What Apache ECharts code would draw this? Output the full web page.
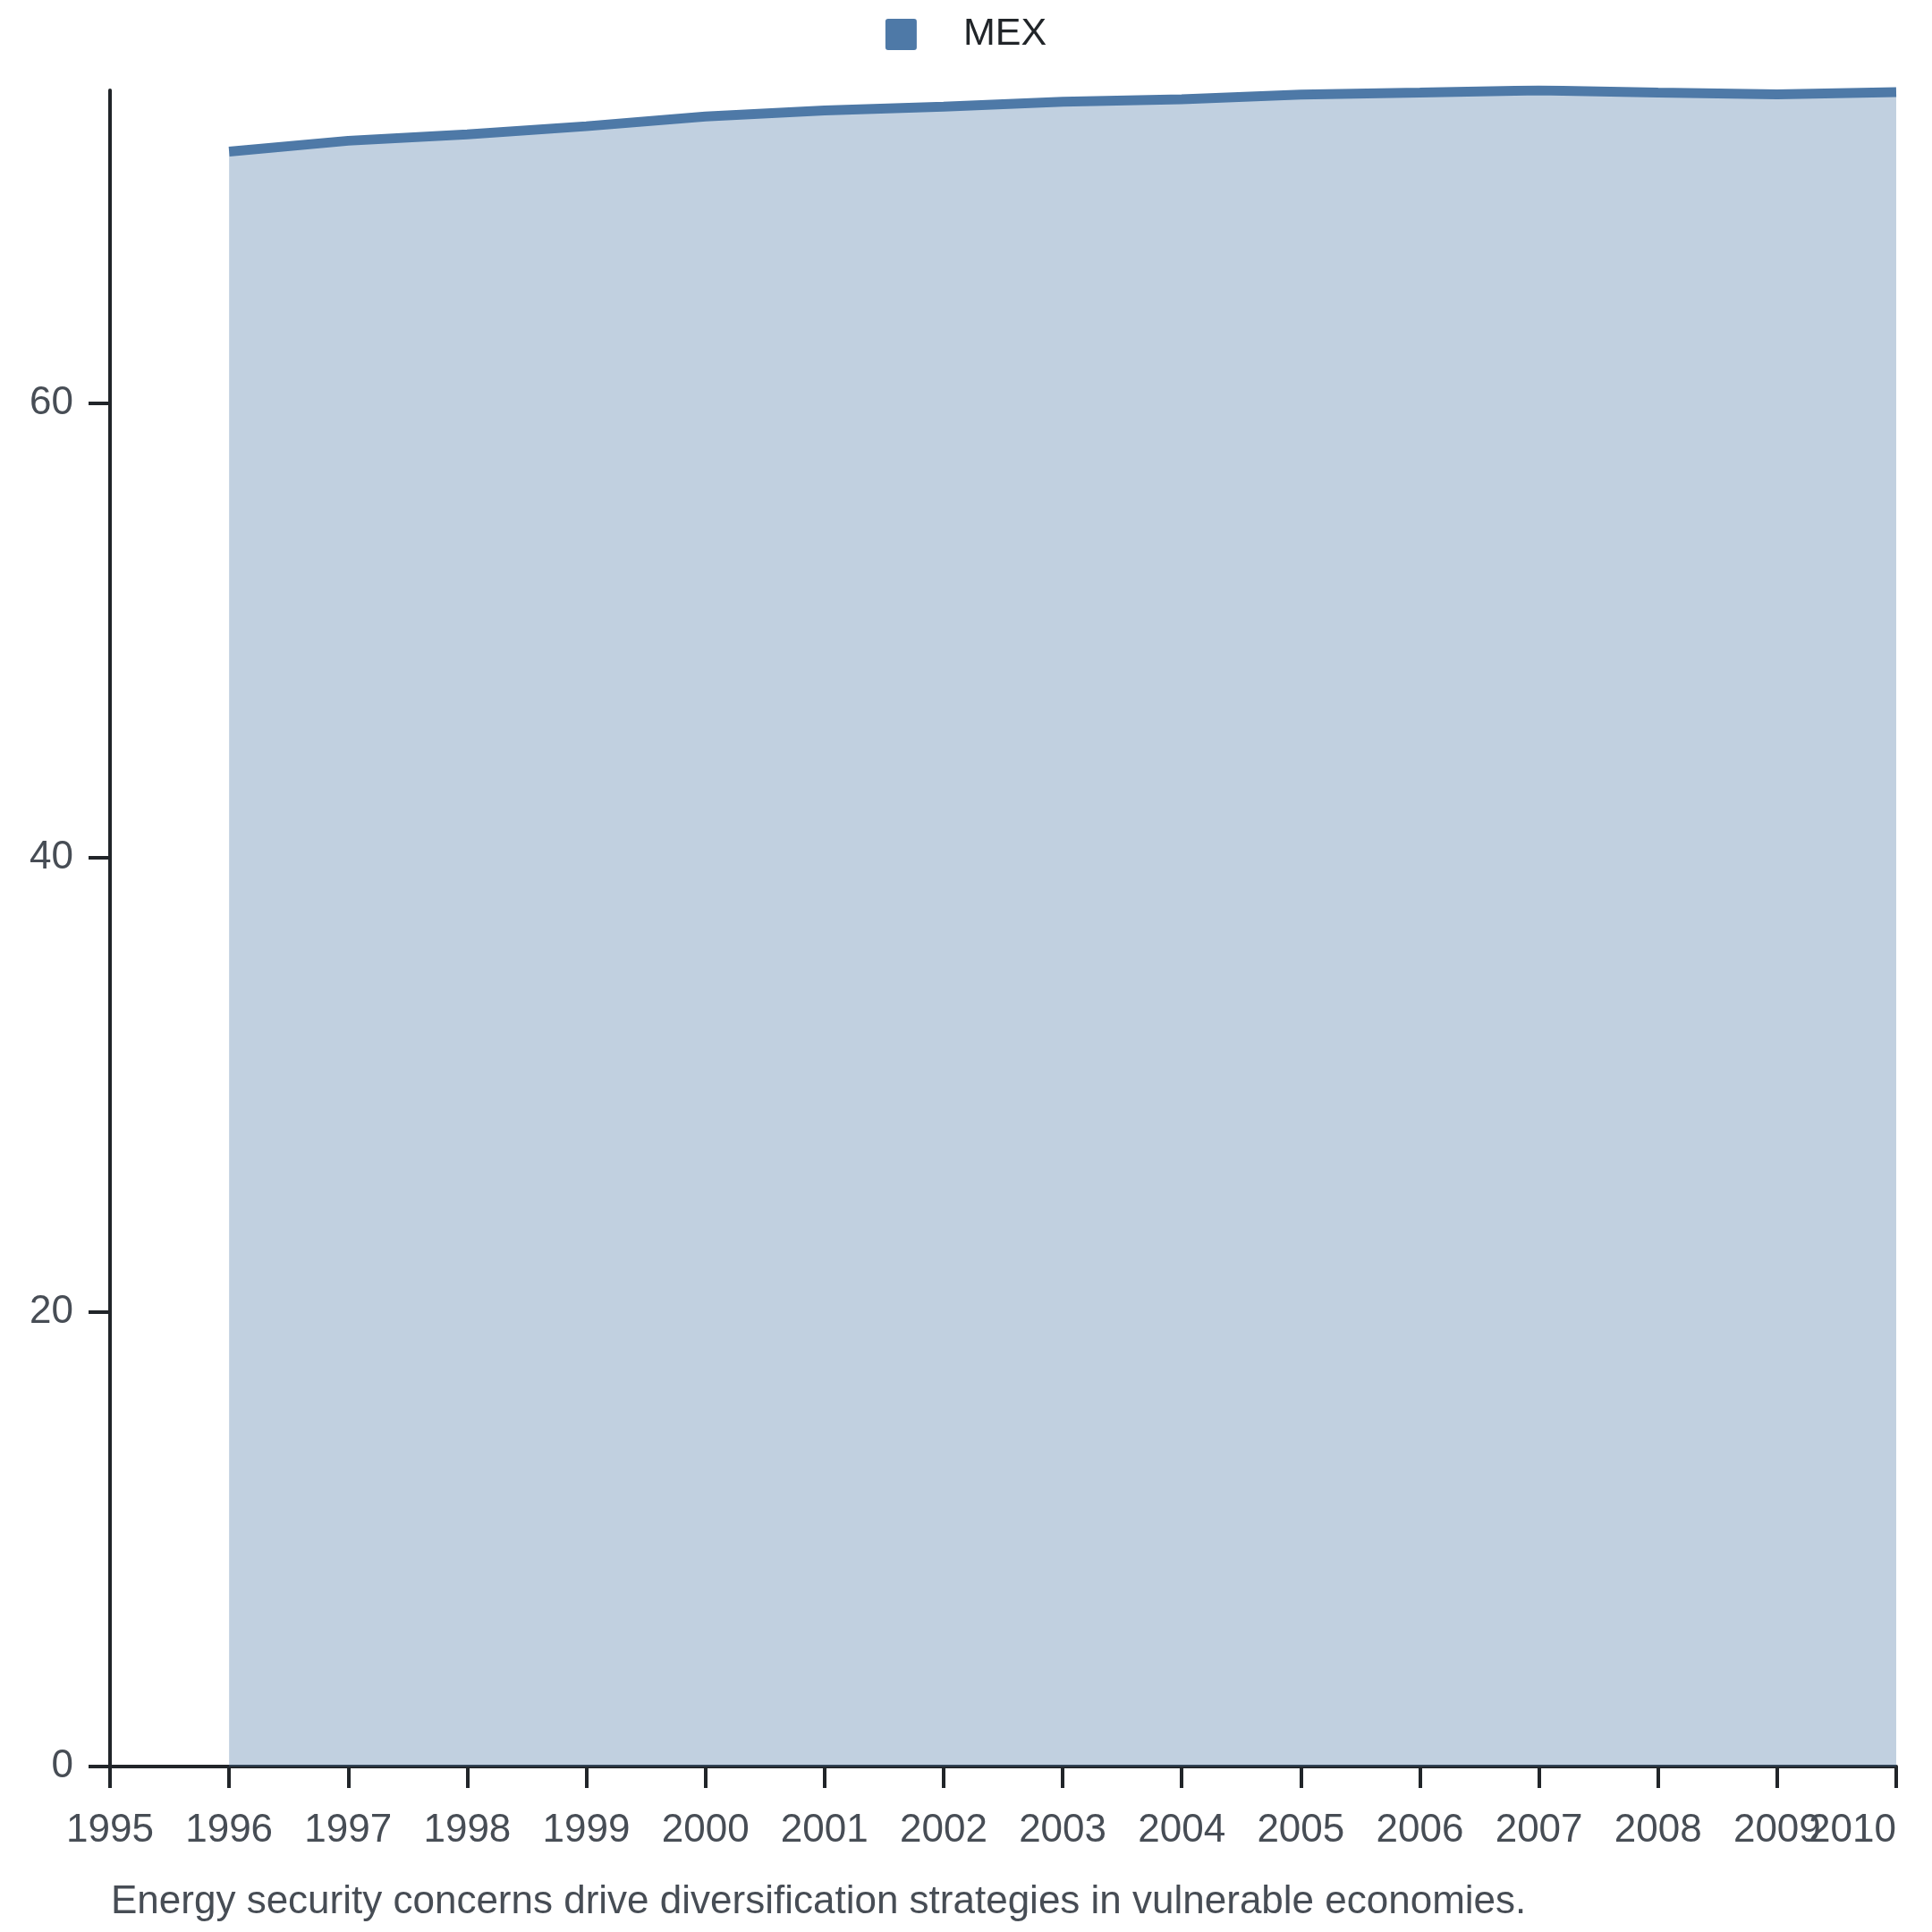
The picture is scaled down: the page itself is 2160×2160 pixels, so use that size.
<!DOCTYPE html>
<html>
<head>
<meta charset="utf-8">
<script src="https://cdn.jsdelivr.net/npm/echarts@6/dist/echarts.min.js"></script>
<style>
  html, body { margin: 0; padding: 0; background: #ffffff; }
  #chart { width: 2160px; height: 2160px; }
</style>
</head>
<body>
<div id="chart"></div>
<script>
const seriesName = 'MEX';
const years = [1996, 1997, 1998, 1999, 2000, 2001, 2002, 2003, 2004, 2005, 2006, 2007, 2008, 2009, 2010];
const values = [71.09, 71.57, 71.85, 72.21, 72.64, 72.90, 73.07, 73.29, 73.40, 73.60, 73.69, 73.79, 73.69, 73.61, 73.71];
const yTicks = [0, 20, 40, 60];
const xMin = 1995;
const xMax = 2010;
const caption = 'Energy security concerns drive diversification strategies in vulnerable economies.';

const fontFamily = '"Liberation Sans", Arial, Helvetica, sans-serif';
const lineColor = '#4e79a7';
const axisColor = '#212529';
const labelColor = '#474d55';

const labelBase = {
  margin: 50,
  fontFamily: fontFamily,
  fontSize: 44,
  color: labelColor,
  showMinLabel: true,
  showMaxLabel: true,
  hideOverlap: false
};

const chart = echarts.init(document.getElementById('chart'), null, { renderer: 'canvas' });
chart.setOption({
  backgroundColor: '#ffffff',
  animation: false,
  legend: {
    data: [seriesName],
    left: 'center',
    top: 12,
    itemWidth: 35,
    itemHeight: 35,
    icon: 'path://M3,0 H32 Q35,0 35,3 V32 Q35,35 32,35 H3 Q0,35 0,32 V3 Q0,0 3,0 Z',
    textStyle: { fontFamily: fontFamily, fontSize: 43, color: '#212529', padding: [0, 0, 0, 47] }
  },
  grid: { left: 123, right: 40, top: 101, bottom: 185, containLabel: false },
  xAxis: [{
    type: 'value',
    min: xMin,
    max: xMax,
    interval: 1,
    position: 'bottom',
    axisLine: { show: true, lineStyle: { color: axisColor, width: 4 } },
    axisTick: { show: true, length: 24, lineStyle: { color: axisColor, width: 4 } },
    splitLine: { show: false },
    axisLabel: Object.assign({}, labelBase, {
      formatter: function (v) { return v === xMax ? '' : String(v); }
    })
  }, {
    type: 'value',
    min: xMin,
    max: xMax,
    interval: 1,
    position: 'bottom',
    offset: 0,
    axisLine: { show: false },
    axisTick: { show: false },
    splitLine: { show: false },
    axisLabel: Object.assign({}, labelBase, {
      alignMaxLabel: 'right',
      formatter: function (v) { return v === xMax ? String(v) : ''; }
    })
  }],
  yAxis: {
    type: 'value',
    min: 0,
    max: 'dataMax',
    interval: 20,
    axisLine: { show: true, lineStyle: { color: axisColor, width: 4 } },
    axisTick: { show: true, length: 24, lineStyle: { color: axisColor, width: 4 } },
    splitLine: { show: false },
    axisLabel: {
      margin: 41,
      fontFamily: fontFamily,
      fontSize: 44,
      color: labelColor,
      showMaxLabel: false,
      formatter: function (v) { return yTicks.indexOf(v) >= 0 ? String(v) : ''; }
    }
  },
  series: [{
    name: seriesName,
    type: 'line',
    xAxisIndex: 0,
    data: years.map((y, i) => [y, values[i]]),
    smooth: false,
    showSymbol: false,
    symbol: 'none',
    lineStyle: { color: lineColor, width: 11 },
    itemStyle: { color: lineColor },
    areaStyle: { color: lineColor, opacity: 0.35 }
  }],
  graphic: [{
    type: 'text',
    left: 124,
    top: 2105,
    style: {
      text: caption,
      fontFamily: fontFamily,
      fontSize: 44,
      fill: labelColor
    }
  }]
});
</script>
</body>
</html>
